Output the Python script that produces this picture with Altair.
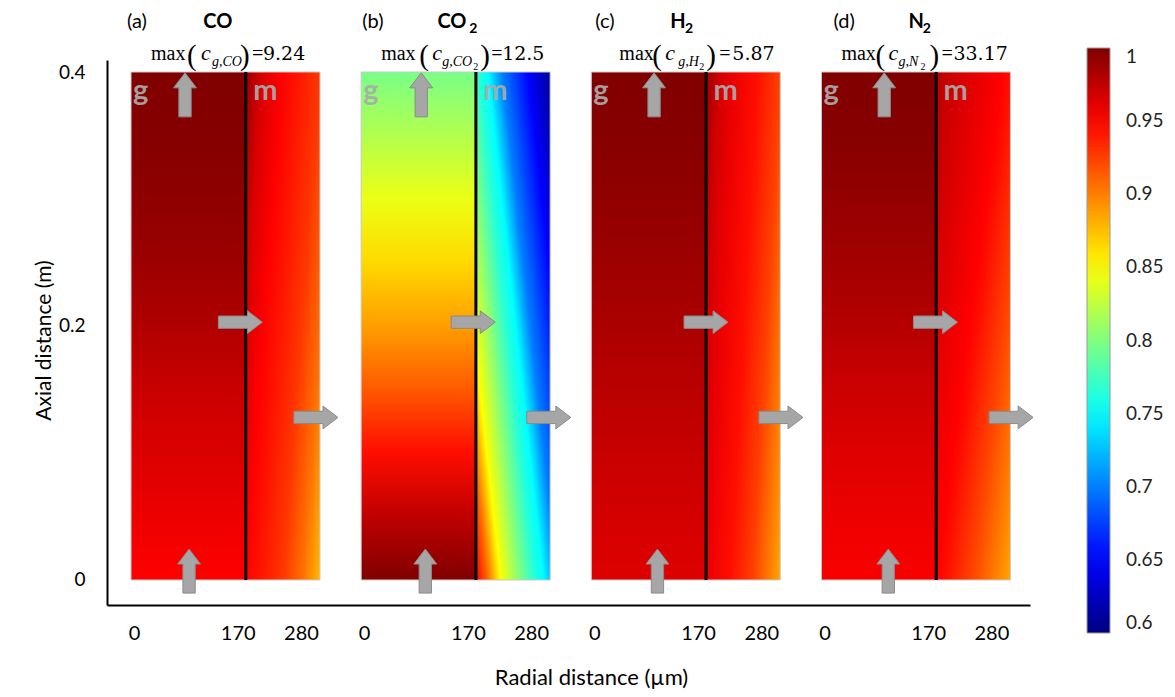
import altair as alt
import pandas as pd

# ------------------------------------------------------------------ data
PANEL_LABELS = ["(a)", "(b)", "(c)", "(d)"]
SPECIES = ["CO", "CO", "H", "N"]
SPECIES_SUB = ["", "2", "2", "2"]
MAX_SUB = ["g,CO", "g,CO", "g,H", "g,N"]
MAX_SUB2 = ["", "2", "2", "2"]
MAX_NUMBERS = ["9.24", "12.5", "5.87", "33.17"]

R_INTERFACE = 170      # µm, gas / membrane interface
R_OUTER = 280          # µm, outer membrane wall
AXIAL_LENGTH = 0.4     # m

X_TICKS_LOCAL = [0, 170, 280]
Y_TICKS = [0, 0.2, 0.4]
COLORBAR_TICKS = [0.6, 0.65, 0.7, 0.75, 0.8, 0.85, 0.9, 0.95, 1.0]

# normalised concentration in the gas channel along the axis
AXIAL = [0.0, 0.05, 0.1, 0.15, 0.2, 0.25, 0.3, 0.35, 0.4]
GAS_A = [0.950, 0.957, 0.964, 0.971, 0.981, 0.989, 0.994, 0.998, 1.000]
GAS_B = [1.000, 0.975, 0.945, 0.915, 0.888, 0.865, 0.842, 0.820, 0.797]
GAS_C = [0.963, 0.967, 0.972, 0.977, 0.983, 0.988, 0.993, 0.997, 1.000]
GAS_D = [0.952, 0.957, 0.963, 0.970, 0.979, 0.986, 0.992, 0.997, 1.000]

# membrane: values along the iso-line normal s (0 -> 1)
MEM_S_A = [0.0, 0.15, 0.33, 0.5, 0.67, 0.85, 1.0]
MEM_V_A = [0.990, 0.965, 0.950, 0.940, 0.928, 0.905, 0.877]
MEM_S_B = [0.0, 0.09, 0.19, 0.34, 0.45, 0.52, 0.63, 0.83, 1.0]
MEM_V_B = [0.955, 0.910, 0.850, 0.800, 0.765, 0.750, 0.700, 0.650, 0.610]
MEM_S_C = [0.0, 0.13, 0.27, 0.5, 0.73, 1.0]
MEM_V_C = [0.988, 0.968, 0.958, 0.945, 0.925, 0.885]
MEM_S_D = [0.0, 0.2, 0.47, 0.53, 0.75, 1.0]
MEM_V_D = [0.978, 0.965, 0.950, 0.945, 0.920, 0.885]

# ------------------------------------------------------------------ layout / style
PANEL_STEP = 341                      # µm between panel origins on the shared axis
UM_PER_PX = 280 / 189.0
X_DOMAIN = [-35.6, 1332]
Y_DOMAIN = [-0.0197, 0.40945]

# iso-line orientation of each membrane gradient: s = a*u + b*w + c (u: radial, w: downward)
MEM_DIR = [(0.667, 0.333, 0.0), (0.571, -0.429, 0.429), (0.73, 0.27, 0.0), (0.53, 0.47, 0.0)]

ARROW_UP_TOP_X = [80, 89, 93, 93]
ARROW_UP_TOP_Y = 0.382
ARROW_UP_BOT_X = [86, 95, 98, 99]
ARROW_UP_BOT_Y = 0.007
ARROW_R_MID_X = [162, 166, 170, 169]
ARROW_R_MID_Y = 0.203
ARROW_R_OUT_X = [274, 278, 281, 281]
ARROW_R_OUT_Y = 0.128

TITLE_Y = 0.4346
TITLE_X = [-6, 1.5, 6, 18]
SPECIES_X = [107, 113, 117, 129]
SPECIES_SUB_X = [0, 160, 139, 150]

MAX_START = [29.6, 29.6, 41.5, 29.6]
MAX_PAREN_L_DX = [36, 38, 33, 34]
MAX_C_DX = [50, 51, 46, 47]
MAX_SUB_DX = [61, 61, 59, 57]
MAX_SUB2_DX = [0, 92, 80, 79]
MAX_PAREN_R_DX = [89, 99, 87, 88]
MAX_EQ_DX = [101, 110, 100, 100]
MAX_NUM_DX = [112, 121, 113, 112]

SANS = "Lato"
SERIF = "Liberation Serif"
SERIF_WIDE = "DejaVu Serif"


def jet_hex(v):
    t = (v - 0.6) / 0.4

    def c(x):
        return max(0.0, min(1.0, x))

    r = c(1.5 - abs(4 * t - 3))
    g = c(1.5 - abs(4 * t - 2))
    b = c(1.5 - abs(4 * t - 1))
    return "#%02x%02x%02x" % (round(r * 255), round(g * 255), round(b * 255))


def vertical_gradient(axial, values):
    stops = [{"offset": a / AXIAL_LENGTH, "color": jet_hex(v)} for a, v in zip(axial, values)]
    return {"gradient": "linear", "x1": 0, "y1": 1, "x2": 0, "y2": 0, "stops": stops}


def slanted_gradient(direction, s_vals, v_vals):
    a, b, c = direction
    n = a * a + b * b
    p1 = (-c * a / n, -c * b / n)
    d = (a / n, b / n)
    stops = [{"offset": s, "color": jet_hex(v)} for s, v in zip(s_vals, v_vals)]
    return {"gradient": "linear", "x1": p1[0], "y1": p1[1],
            "x2": p1[0] + d[0], "y2": p1[1] + d[1], "stops": stops}


GAS = [GAS_A, GAS_B, GAS_C, GAS_D]
MEM_S = [MEM_S_A, MEM_S_B, MEM_S_C, MEM_S_D]
MEM_V = [MEM_V_A, MEM_V_B, MEM_V_C, MEM_V_D]

x_scale = alt.Scale(domain=X_DOMAIN, nice=False, zero=False)
y_scale = alt.Scale(domain=Y_DOMAIN, nice=False, zero=False)

x_ticks_global = [p * PANEL_STEP + v for p in range(4) for v in X_TICKS_LOCAL]

x_axis = alt.Axis(
    values=x_ticks_global,
    labelExpr="format(datum.value % 341, 'd')",
    ticks=False, grid=False,
    domainColor="black", domainWidth=2,
    labelFont=SANS, labelFontSize=20, labelColor="black", labelPadding=18,
    labelFlush=False, labelOverlap=False,
    labelOffset={"condition": [
        {"test": "datum.value % 341 == 280", "value": -19},
        {"test": "datum.value % 341 == 170", "value": -8}], "value": 3},
    title="Radial distance (µm)", titleFont=SANS, titleFontSize=22,
    titleFontWeight="normal", titleColor="black", titleX=484, titleY=62,
)
y_axis = alt.Axis(
    values=Y_TICKS, format=".1~f",
    ticks=False, grid=False,
    domainColor="black", domainWidth=2,
    labelFont=SANS, labelFontSize=19, labelColor="black", labelPadding=22,
    title="Axial distance (m)", titleFont=SANS, titleFontSize=21,
    titleFontWeight="normal", titleColor="black", titleX=-63, titleY=280,
    titleBaseline="middle",
)


def xq(field):
    return alt.X(field, type="quantitative", scale=x_scale, axis=x_axis)


def yq(field):
    return alt.Y(field, type="quantitative", scale=y_scale, axis=y_axis)


layers = []

# ---------------- concentration fields
for i in range(4):
    off = i * PANEL_STEP
    gas_df = pd.DataFrame({"x0": [off], "x1": [off + R_INTERFACE], "y0": [0.0], "y1": [AXIAL_LENGTH]})
    layers.append(
        alt.Chart(gas_df).mark_rect(fill=vertical_gradient(AXIAL, GAS[i]), stroke="#c8c8c8", strokeWidth=1)
        .encode(x=xq("x0"), x2="x1", y=yq("y0"), y2="y1")
    )
    mem_df = pd.DataFrame({"x0": [off + R_INTERFACE], "x1": [off + R_OUTER], "y0": [0.0], "y1": [AXIAL_LENGTH]})
    layers.append(
        alt.Chart(mem_df).mark_rect(fill=slanted_gradient(MEM_DIR[i], MEM_S[i], MEM_V[i]),
                                    stroke="#c8c8c8", strokeWidth=1)
        .encode(x=xq("x0"), x2="x1", y=yq("y0"), y2="y1")
    )

# ---------------- interface lines
iface = pd.DataFrame({"gx": [i * PANEL_STEP + R_INTERFACE for i in range(4)],
                      "y0": [0.0] * 4, "y1": [AXIAL_LENGTH] * 4})
layers.append(alt.Chart(iface).mark_rule(color="black", strokeWidth=3)
              .encode(x=xq("gx"), y=yq("y0"), y2="y1"))

# ---------------- arrows
UP = "M0,-1 L0.52,-0.32 L0.28,-0.32 L0.28,1 L-0.28,1 L-0.28,-0.32 L-0.52,-0.32 Z"
RIGHT = "M1,0 L0.32,0.52 L0.32,0.28 L-1,0.28 L-1,-0.28 L0.32,-0.28 L0.32,-0.52 Z"
up_rows, right_rows = [], []
for i in range(4):
    off = i * PANEL_STEP
    up_rows.append({"gx": off + ARROW_UP_TOP_X[i], "ay": ARROW_UP_TOP_Y})
    up_rows.append({"gx": off + ARROW_UP_BOT_X[i], "ay": ARROW_UP_BOT_Y})
    right_rows.append({"gx": off + ARROW_R_MID_X[i], "ay": ARROW_R_MID_Y})
    right_rows.append({"gx": off + ARROW_R_OUT_X[i], "ay": ARROW_R_OUT_Y})
for rows, shape in [(up_rows, UP), (right_rows, RIGHT)]:
    layers.append(
        alt.Chart(pd.DataFrame(rows)).mark_point(shape=shape, size=1936, filled=True, fill="#a6a6a6",
                                                 stroke="#8a8a8a", strokeWidth=1, opacity=1)
        .encode(x=xq("gx"), y=yq("ay"))
    )


def text_layer(rows, **props):
    return (alt.Chart(pd.DataFrame(rows))
            .mark_text(align="left", baseline="alphabetic", **props)
            .encode(x=xq("gx"), y=yq("ay"), text="t:N"))


# ---------------- g / m labels
gm_rows = []
for i in range(4):
    off = i * PANEL_STEP
    gm_rows.append({"gx": off + 3, "ay": 0.378, "t": "g"})
    gm_rows.append({"gx": off + 181, "ay": 0.378, "t": "m"})
layers.append(text_layer(gm_rows, font=SANS, fontSize=29, fontWeight="bold", color="#ababab", opacity=0.92))

# ---------------- panel titles
lab_rows = [{"gx": i * PANEL_STEP + TITLE_X[i], "ay": TITLE_Y, "t": PANEL_LABELS[i]} for i in range(4)]
layers.append(text_layer(lab_rows, font=SANS, fontSize=20, color="black"))
sp_rows = [{"gx": i * PANEL_STEP + SPECIES_X[i], "ay": TITLE_Y, "t": SPECIES[i]} for i in range(4)]
layers.append(text_layer(sp_rows, font=SANS, fontSize=20, fontWeight="bold", color="black"))
sps_rows = [{"gx": i * PANEL_STEP + SPECIES_SUB_X[i], "ay": TITLE_Y - 0.0038, "t": SPECIES_SUB[i]}
            for i in range(4) if SPECIES_SUB[i]]
layers.append(text_layer(sps_rows, font=SANS, fontSize=14, fontWeight="bold", color="black"))

# ---------------- max(...) annotations
max_rows, paren_rows, c_rows, sub_rows, sub2_rows, eq_rows, num_rows = [], [], [], [], [], [], []
for i in range(4):
    base = i * PANEL_STEP + MAX_START[i]
    max_rows.append({"gx": base, "ay": 0.4094, "t": "max"})
    paren_rows.append({"gx": base + MAX_PAREN_L_DX[i] * UM_PER_PX, "ay": 0.4055, "t": "("})
    paren_rows.append({"gx": base + MAX_PAREN_R_DX[i] * UM_PER_PX, "ay": 0.4055, "t": ")"})
    c_rows.append({"gx": base + MAX_C_DX[i] * UM_PER_PX, "ay": 0.4094, "t": "c"})
    sub_rows.append({"gx": base + MAX_SUB_DX[i] * UM_PER_PX, "ay": 0.4045, "t": MAX_SUB[i]})
    if MAX_SUB2[i]:
        sub2_rows.append({"gx": base + MAX_SUB2_DX[i] * UM_PER_PX, "ay": 0.4016, "t": MAX_SUB2[i]})
    eq_rows.append({"gx": base + MAX_EQ_DX[i] * UM_PER_PX, "ay": 0.4094, "t": "="})
    num_rows.append({"gx": base + MAX_NUM_DX[i] * UM_PER_PX, "ay": 0.4094, "t": MAX_NUMBERS[i]})
layers.append(text_layer(max_rows, font=SERIF, fontSize=20, color="black"))
layers.append(text_layer(paren_rows, font=SERIF, fontSize=29, color="black"))
layers.append(text_layer(c_rows, font=SERIF, fontSize=22, fontStyle="italic", color="black"))
layers.append(text_layer(sub_rows, font=SERIF, fontSize=14, fontStyle="italic", color="black"))
layers.append(text_layer(sub2_rows, font=SERIF, fontSize=10, color="black"))
layers.append(text_layer(eq_rows, font=SERIF, fontSize=20, color="black"))
layers.append(text_layer(num_rows, font=SERIF_WIDE, fontSize=19, color="black"))

# ---------------- colour bar (legend of the jet colour scale)
cb = pd.DataFrame({"v": COLORBAR_TICKS})
layers.append(
    alt.Chart(cb).mark_point(size=0, opacity=1)
    .encode(
        x=alt.value(0), y=alt.value(0),
        color=alt.Color("v:Q",
                        scale=alt.Scale(domain=COLORBAR_TICKS, range=[jet_hex(v) for v in COLORBAR_TICKS],
                                        interpolate="rgb"),
                        legend=alt.Legend(orient="none", legendX=980, legendY=-12, direction="vertical",
                                          gradientLength=585, gradientThickness=23, title=None,
                                          values=COLORBAR_TICKS, format=".2~f",
                                          labelFont=SANS, labelFontSize=19, labelColor="#222222",
                                          labelOffset=16, labelOverlap=False, padding=0,
                                          gradientOpacity=1,
                                          gradientStrokeColor="#9a9a9a", gradientStrokeWidth=1))
    )
)

chart = (
    alt.layer(*layers)
    .properties(width=923, height=545,
                autosize=alt.AutoSizeParams(type="none"),
                padding={"left": 99, "top": 52, "right": 137, "bottom": 84})
    .configure_view(strokeWidth=0)
)

chart.save("out.html", embed_options={"renderer": "svg", "actions": False})
